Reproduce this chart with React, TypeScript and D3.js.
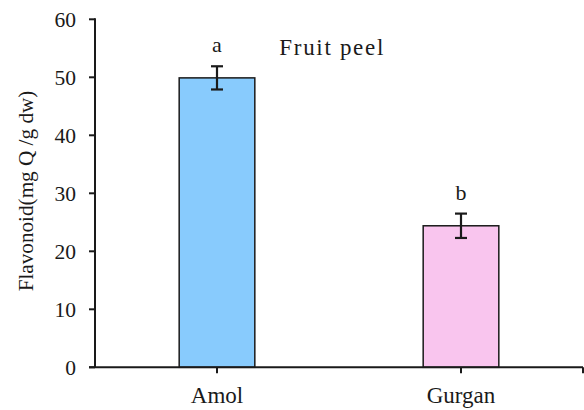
import React from "react";
import * as d3 from "d3";

// Total flavonoid content of fruit peel by region
const categories = ["Amol", "Gurgan"];
const values = [49.9, 24.4];
const errors = [2.0, 2.1];
const groupLetters = ["a", "b"];
const yTicks = [0, 10, 20, 30, 40, 50, 60];
const barColors = ["#88CBFD", "#F9C5EE"];

const W = 584;
const H = 410;
const left = 95;
const right = 583;
const top = 19.3;
const bottom = 367.3;
const FONT = "Liberation Serif";
const INK = "#1a1a1a";

type LabelProps = {
  x: number;
  y: number;
  size: number;
  anchor?: string;
  dy?: string;
  transform?: string;
  length?: number;
  children: React.ReactNode;
};

function Label({ x, y, size, anchor = "start", dy, transform, length, children }: LabelProps) {
  return (
    <text
      x={x}
      y={y}
      dy={dy}
      transform={transform}
      textAnchor={anchor}
      fill={INK}
      fontFamily={FONT}
      textLength={length}
      lengthAdjust={length ? "spacing" : undefined}
      style={{ fontFamily: FONT, fontSize: size }}
    >
      {children}
    </text>
  );
}

export default function App() {
  const x = d3
    .scaleBand<string>()
    .domain(categories)
    .range([left, right])
    .paddingInner(0.69)
    .paddingOuter(0.345);
  const y = d3.scaleLinear().domain([0, 60]).range([bottom, top]);
  const bw = x.bandwidth();

  return (
    <svg
      width={W}
      height={H}
      fontFamily={FONT}
      style={{ display: "block", position: "absolute", left: 0, top: 0, background: "#fff", fontFamily: FONT }}
    >
      {/* bars */}
      {categories.map((c, i) => (
        <rect
          key={c}
          x={x(c)}
          y={y(values[i])}
          width={bw}
          height={y(0) - y(values[i])}
          fill={barColors[i]}
          stroke={INK}
          strokeWidth={1.5}
        />
      ))}

      {/* error bars */}
      {categories.map((c, i) => {
        const cx = (x(c) as number) + bw / 2;
        const yt = y(values[i] + errors[i]);
        const yb = y(values[i] - errors[i]);
        return (
          <g key={c} stroke={INK} strokeWidth={2.2}>
            <line x1={cx} x2={cx} y1={yt} y2={yb} />
            <line x1={cx - 6} x2={cx + 6} y1={yt} y2={yt} />
            <line x1={cx - 6} x2={cx + 6} y1={yb} y2={yb} />
          </g>
        );
      })}

      {/* significance letters */}
      {categories.map((c, i) => (
        <Label
          key={c}
          x={(x(c) as number) + bw / 2}
          y={y(values[i] + errors[i]) - 14}
          anchor="middle"
          size={22}
        >
          {groupLetters[i]}
        </Label>
      ))}

      {/* y axis */}
      <line x1={left} x2={left} y1={top - 1} y2={bottom} stroke={INK} strokeWidth={2} />
      {yTicks.map((t) => (
        <g key={t}>
          <line x1={left - 6} x2={left} y1={y(t)} y2={y(t)} stroke={INK} strokeWidth={2} />
          <Label x={left - 19} y={y(t)} dy="0.34em" anchor="end" size={21.5}>
            {t}
          </Label>
        </g>
      ))}

      {/* x axis */}
      <line x1={left - 6} x2={right} y1={bottom} y2={bottom} stroke={INK} strokeWidth={2} />
      <line x1={right} x2={right} y1={bottom} y2={bottom + 6} stroke={INK} strokeWidth={2} />
      {categories.map((c) => {
        const cx = (x(c) as number) + bw / 2;
        return (
          <g key={c}>
            <line x1={cx} x2={cx} y1={bottom} y2={bottom + 6} stroke={INK} strokeWidth={2} />
            <Label x={cx} y={403.3} anchor="middle" size={23}>
              {c}
            </Label>
          </g>
        );
      })}

      {/* panel title */}
      <Label x={279.3} y={55} size={23} length={104}>
        Fruit peel
      </Label>

      {/* y axis title */}
      <Label x={0} y={0} transform="translate(33, 191) rotate(-90)" anchor="middle" size={21.2}>
        Flavonoid(mg Q /g dw)
      </Label>
    </svg>
  );
}
